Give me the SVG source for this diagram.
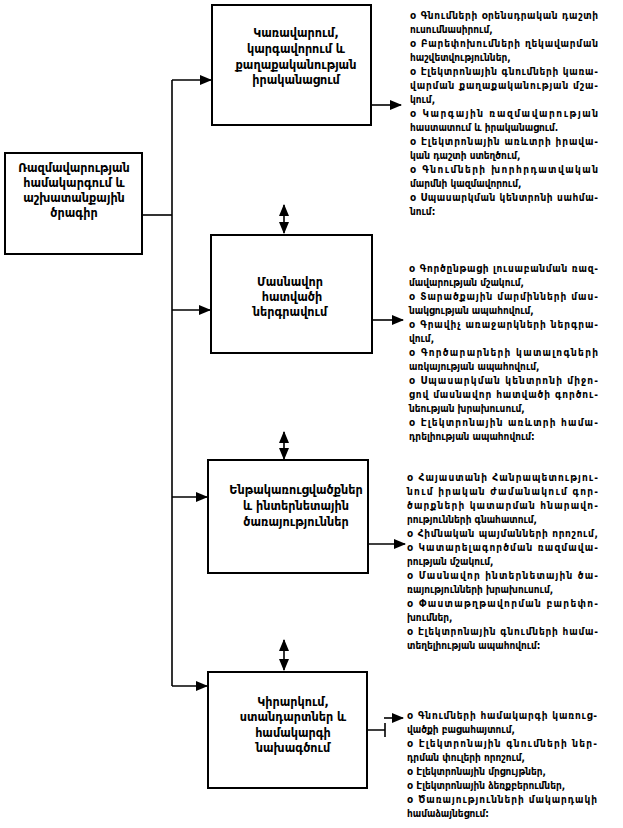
<svg xmlns="http://www.w3.org/2000/svg" width="623" height="828" viewBox="0 0 623 828">
<style>
.box{fill:#fff;stroke:#000;stroke-width:2}
.ln{fill:none;stroke:#000;stroke-width:1.6}
.bt{font-family:"DejaVu Sans Condensed","DejaVu Sans",sans-serif;font-weight:bold;font-size:12.5px;text-anchor:middle;fill:#000}
.lt{font-family:"DejaVu Sans Condensed","DejaVu Sans",sans-serif;font-weight:bold;font-size:10px;fill:#000}
</style>
<defs>
<marker id="ah" viewBox="0 0 12 10" refX="11" refY="5" markerWidth="12" markerHeight="10" markerUnits="userSpaceOnUse" orient="auto-start-reverse">
<path d="M0,0 L12,5 L0,10 Z" fill="#000"/>
</marker>
</defs>
<rect width="623" height="828" fill="#fff"/>
<g id="connectors">
<path class="ln" d="M142,215 H172"/>
<path class="ln" d="M172,80 V686"/>
<path class="ln" d="M172,80 H211" marker-end="url(#ah)"/>
<path class="ln" d="M172,310 H210" marker-end="url(#ah)"/>
<path class="ln" d="M172,497 H207" marker-end="url(#ah)"/>
<path class="ln" d="M172,686 H207" marker-end="url(#ah)"/>
<path class="ln" d="M284,205 V233" marker-start="url(#ah)" marker-end="url(#ah)"/>
<path class="ln" d="M284,432 V459" marker-start="url(#ah)" marker-end="url(#ah)"/>
<path class="ln" d="M284,640 V670" marker-start="url(#ah)" marker-end="url(#ah)"/>
<path class="ln" d="M371,105 H401" marker-end="url(#ah)"/>
<path class="ln" d="M372,320 H403" marker-end="url(#ah)"/>
<path class="ln" d="M368,544 H405" marker-end="url(#ah)"/>
<path class="ln" d="M367,730 H385 M385,723 V737"/>
<path class="ln" d="M384,718 H403" marker-end="url(#ah)"/>
</g>
<g id="node-strategy">
<rect class="box" x="5" y="153" width="137" height="101"/>
<text class="bt" x="74" y="172">Ռազմավարության</text>
<text class="bt" x="74" y="187">համակարգում և</text>
<text class="bt" x="74" y="202">աշխատանքային</text>
<text class="bt" x="74" y="217">ծրագիր</text>
</g>
<g id="node-management">
<rect class="box" x="212" y="5" width="159" height="120"/>
<text class="bt" x="296" y="37">Կառավարում,</text>
<text class="bt" x="296" y="53">կարգավորում և</text>
<text class="bt" x="296" y="69">քաղաքականության</text>
<text class="bt" x="296" y="84">իրականացում</text>
</g>
<g id="node-private">
<rect class="box" x="211" y="235" width="161" height="118"/>
<text class="bt" x="290" y="286">Մասնավոր</text>
<text class="bt" x="292" y="301">հատվածի</text>
<text class="bt" x="290" y="316">ներգրավում</text>
</g>
<g id="node-infra">
<rect class="box" x="208" y="460" width="160" height="113"/>
<text class="bt" x="296" y="494">Ենթակառուցվածքներ</text>
<text class="bt" x="296" y="510">և ինտերնետային</text>
<text class="bt" x="296" y="526">ծառայություններ</text>
</g>
<g id="node-standards">
<rect class="box" x="208" y="672" width="159" height="116"/>
<text class="bt" x="293" y="706">Կիրարկում,</text>
<text class="bt" x="293" y="721">ստանդարտներ և</text>
<text class="bt" x="293" y="737">համակարգի</text>
<text class="bt" x="293" y="752">նախագծում</text>
</g>
<g id="list-management">
<text class="lt" x="410" y="19" textLength="188" lengthAdjust="spacing">o Գնումների օրենսդրական դաշտի</text>
<text class="lt" x="410" y="33">ուսումնասիրում,</text>
<text class="lt" x="410" y="47" textLength="188" lengthAdjust="spacing">o Բարեփոխումների ղեկավարման</text>
<text class="lt" x="410" y="61">հաշվետվություններ,</text>
<text class="lt" x="410" y="75" textLength="188" lengthAdjust="spacing">o Էլեկտրոնային գնումների կառա-</text>
<text class="lt" x="410" y="89" textLength="188" lengthAdjust="spacing">վարման քաղաքականության մշա-</text>
<text class="lt" x="410" y="103">կում,</text>
<text class="lt" x="410" y="117" textLength="188" lengthAdjust="spacing">o Կարգային ռազմավարության</text>
<text class="lt" x="410" y="131">հաստատում և իրականացում.</text>
<text class="lt" x="410" y="145" textLength="188" lengthAdjust="spacing">o Էլեկտրոնային առևտրի իրավա-</text>
<text class="lt" x="410" y="159">կան դաշտի ստեղծում,</text>
<text class="lt" x="410" y="173" textLength="188" lengthAdjust="spacing">o Գնումների խորհրդատվական</text>
<text class="lt" x="410" y="187">մարմնի կազմավորում,</text>
<text class="lt" x="410" y="201" textLength="188" lengthAdjust="spacing">o Սպասարկման կենտրոնի սահմա-</text>
<text class="lt" x="410" y="215">նում:</text>
</g>
<g id="list-private">
<text class="lt" x="409" y="272" textLength="189" lengthAdjust="spacing">o Գործընթացի լուսաբանման ռազ-</text>
<text class="lt" x="409" y="286">մավարության մշակում,</text>
<text class="lt" x="409" y="300" textLength="189" lengthAdjust="spacing">o Տարածքային մարմինների մաս-</text>
<text class="lt" x="409" y="314">նակցության ապահովում,</text>
<text class="lt" x="409" y="328" textLength="189" lengthAdjust="spacing">o Գրավիչ առաջարկների ներգրա-</text>
<text class="lt" x="409" y="342">վում,</text>
<text class="lt" x="409" y="356" textLength="189" lengthAdjust="spacing">o Գործարարների կատալոգների</text>
<text class="lt" x="409" y="370">առկայության ապահովում,</text>
<text class="lt" x="409" y="384" textLength="189" lengthAdjust="spacing">o Սպասարկման կենտրոնի միջո-</text>
<text class="lt" x="409" y="398" textLength="189" lengthAdjust="spacing">ցով մասնավոր հատվածի գործու-</text>
<text class="lt" x="409" y="412">նեության խրախուսում,</text>
<text class="lt" x="409" y="426" textLength="189" lengthAdjust="spacing">o Էլեկտրոնային առևտրի համա-</text>
<text class="lt" x="409" y="440">դրելիության ապահովում:</text>
</g>
<g id="list-infra">
<text class="lt" x="407" y="481" textLength="191" lengthAdjust="spacing">o Հայաստանի Հանրապետությու-</text>
<text class="lt" x="407" y="495" textLength="191" lengthAdjust="spacing">նում իրական ժամանակում գոր-</text>
<text class="lt" x="407" y="509" textLength="191" lengthAdjust="spacing">ծարքների կատարման հնարավո-</text>
<text class="lt" x="407" y="523">րությունների գնահատում,</text>
<text class="lt" x="407" y="537" textLength="191" lengthAdjust="spacing">o Հիմնական պայմանների որոշում,</text>
<text class="lt" x="407" y="551" textLength="191" lengthAdjust="spacing">o Կատարելագործման ռազմավա-</text>
<text class="lt" x="407" y="565">րության մշակում,</text>
<text class="lt" x="407" y="579" textLength="191" lengthAdjust="spacing">o Մասնավոր ինտերնետային ծա-</text>
<text class="lt" x="407" y="593">ռայությունների խրախուսում,</text>
<text class="lt" x="407" y="607" textLength="191" lengthAdjust="spacing">o Փաստաթղթավորման բարեփո-</text>
<text class="lt" x="407" y="621">խումներ,</text>
<text class="lt" x="407" y="635" textLength="191" lengthAdjust="spacing">o Էլեկտրոնային գնումների համա-</text>
<text class="lt" x="407" y="649">տեղելիության ապահովում:</text>
</g>
<g id="list-standards">
<text class="lt" x="407" y="719" textLength="190" lengthAdjust="spacing">o Գնումների համակարգի կառուց-</text>
<text class="lt" x="407" y="733">վածքի բացահայտում,</text>
<text class="lt" x="407" y="747" textLength="190" lengthAdjust="spacing">o Էլեկտրոնային գնումների ներ-</text>
<text class="lt" x="407" y="761">դրման փուլերի որոշում,</text>
<text class="lt" x="407" y="775">o Էլեկտրոնային մրցույթներ,</text>
<text class="lt" x="407" y="789">o Էլեկտրոնային ձեռքբերումներ,</text>
<text class="lt" x="407" y="803" textLength="190" lengthAdjust="spacing">o Ծառայությունների մակարդակի</text>
<text class="lt" x="407" y="817">համաձայնեցում:</text>
</g>
</svg>
